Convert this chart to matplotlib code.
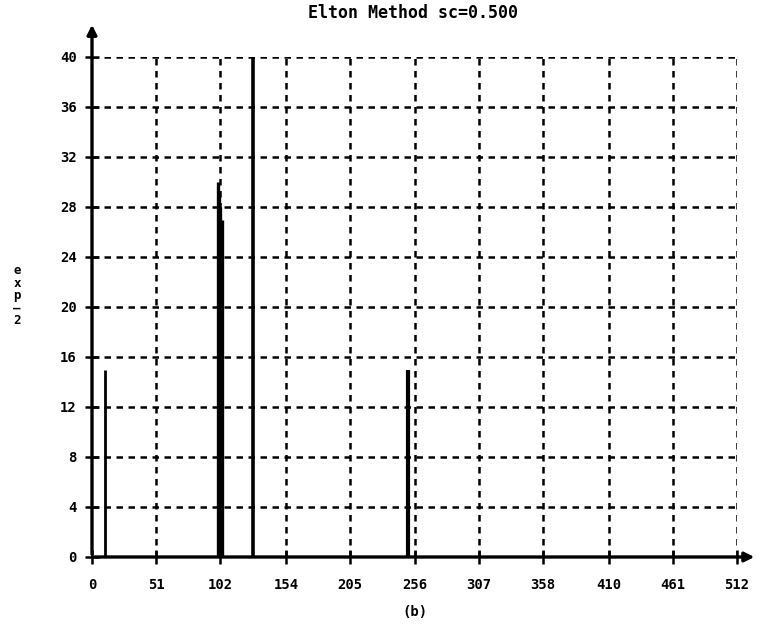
import numpy as np
import matplotlib.pyplot as plt

# spectrum peaks
peak_bins = [10, 100, 101, 102, 103, 128, 251]
peak_vals = [15, 30, 29, 28, 27, 40, 15]
peak_widths = [2.0, 2.4, 2.4, 2.4, 2.4, 2.6, 3.0]

xticks = [0, 51, 102, 154, 205, 256, 307, 358, 410, 461, 512]
yticks = [0, 4, 8, 12, 16, 20, 24, 28, 32, 36, 40]

fnt = {'family': 'DejaVu Sans Mono', 'weight': 'bold', 'size': 10}

fig = plt.figure(figsize=(7.6, 6.35), dpi=100)
ax = fig.add_axes([92 / 760, 78 / 635, 645 / 760, 500 / 635])
ax.set_xlim(0, 512)
ax.set_ylim(0, 40)

for s in ax.spines.values():
    s.set_visible(False)

# dotted grid
for x in xticks[1:]:
    ax.plot([x, x], [0, 40], color='black', lw=1.8, ls=(0, (2.6, 2.2)), zorder=1)
for y in yticks[1:]:
    ax.plot([0, 512], [y, y], color='black', lw=1.8, ls=(0, (2.6, 2.2)), zorder=1)

# spikes
ax.vlines(peak_bins, 0, peak_vals, colors='black', linewidths=peak_widths, zorder=3)

# axes with arrows
ax.annotate('', xy=(528, 0), xytext=(0, 0), xycoords='data',
            arrowprops=dict(arrowstyle='-|>', color='black', lw=2.4, mutation_scale=14),
            annotation_clip=False, zorder=4)
ax.annotate('', xy=(0, 42.8), xytext=(0, 0), xycoords='data',
            arrowprops=dict(arrowstyle='-|>', color='black', lw=2.4, mutation_scale=14),
            annotation_clip=False, zorder=4)

ax.set_xticks(xticks)
ax.set_yticks(yticks)
ax.set_xticklabels([str(v) for v in xticks], fontdict=fnt)
ax.set_yticklabels([str(v) for v in yticks], fontdict=fnt)
ax.tick_params(direction='inout', length=10, width=1.8, color='black')
ax.tick_params(axis='x', pad=10)
ax.tick_params(axis='y', pad=6)

fig.text(413 / 760, 1 - 13 / 635, 'Elton Method sc=0.500', ha='center', va='center',
         family='DejaVu Sans Mono', weight='bold', size=12)
fig.text(415 / 760, 1 - 612 / 635, '(b)', ha='center', va='center', **fnt)
fig.text(17 / 760, 1 - 296 / 635, 'e\nx\np\n\u2013\n2', ha='center', va='center',
         linespacing=0.95, family='DejaVu Sans Mono', weight='bold', size=9)

fig.savefig('out.png', dpi=100)
